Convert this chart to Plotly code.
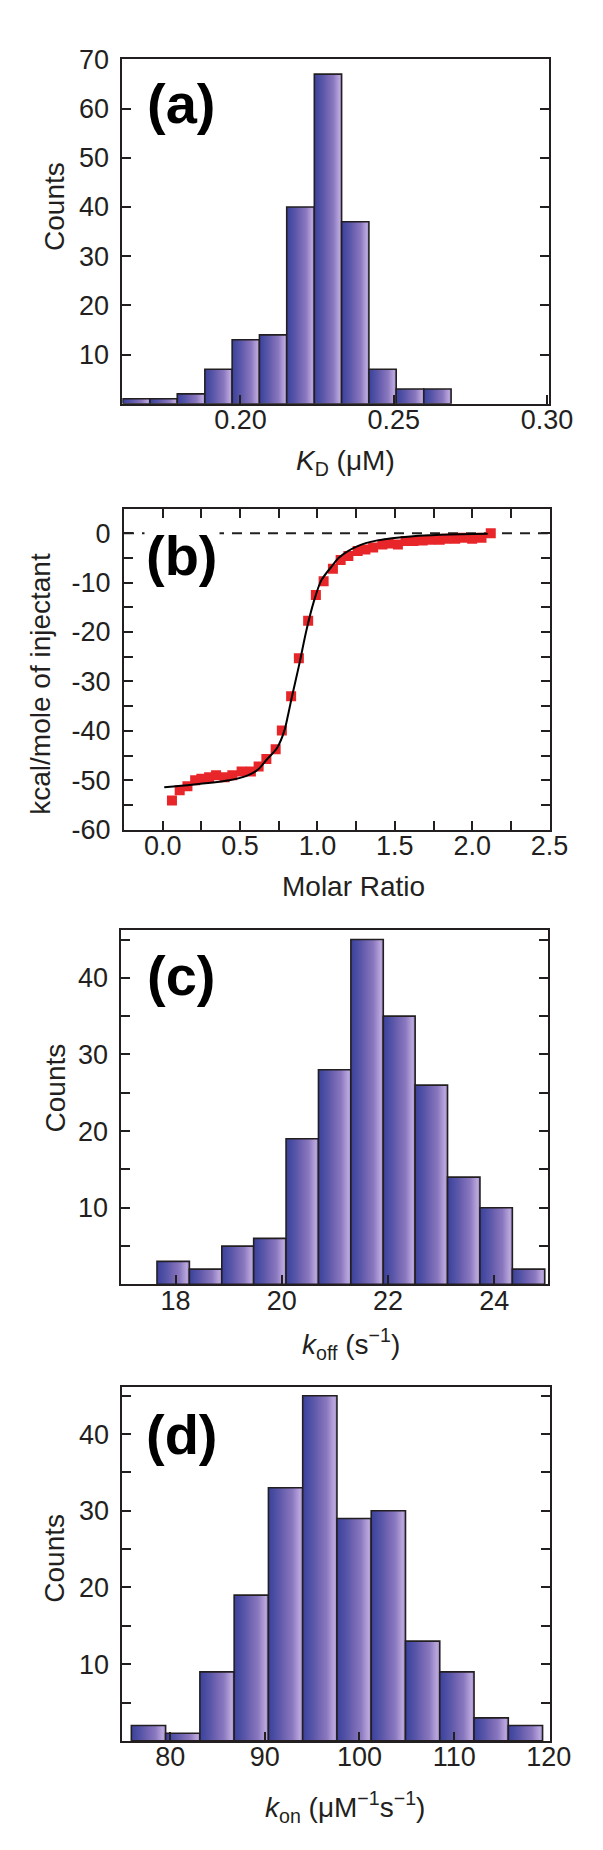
import plotly.graph_objects as go

W, H = 603, 1850

# ---------------- data ----------------
# (a) K_D histogram
kd_edges = [0.1616, 0.1705, 0.1794, 0.1884, 0.1973, 0.2062, 0.2151,
            0.2241, 0.2330, 0.2419, 0.2508, 0.2598, 0.2687]
kd_counts = [1, 1, 2, 7, 13, 14, 40, 67, 37, 7, 3, 3]
kd_xticks = [0.20, 0.25, 0.30]
kd_xtext = ["0.20", "0.25", "0.30"]
kd_yticks = [10, 20, 30, 40, 50, 60, 70]

# (b) ITC isotherm
itc_x = [0.06, 0.11, 0.16, 0.21, 0.25, 0.30, 0.345, 0.40, 0.45, 0.51,
         0.57, 0.62, 0.67, 0.73, 0.77, 0.83, 0.88, 0.94, 0.99, 1.04,
         1.10, 1.15, 1.20, 1.26, 1.31, 1.36, 1.42, 1.46, 1.52, 1.57,
         1.62, 1.68, 1.73, 1.79, 1.83, 1.89, 1.94, 2.00, 2.06, 2.12]
itc_y = [-54.1, -52.0, -51.2, -50.0, -49.7, -49.4, -49.0, -49.4, -49.0, -48.2,
         -48.2, -47.2, -45.7, -43.7, -39.9, -33.0, -25.3, -17.7, -12.5, -9.7,
         -7.2, -5.4, -4.6, -3.6, -3.3, -2.9, -2.3, -2.1, -2.3, -1.6,
         -1.6, -1.5, -1.3, -1.3, -1.1, -1.1, -0.9, -1.1, -0.9, 0.0]
fit_x = [0.01, 0.19, 0.43, 0.55, 0.62, 0.667, 0.74, 0.786, 0.81, 0.833,
         0.88, 0.93, 0.976, 1.024, 1.095, 1.14, 1.26, 1.38, 1.62, 2.10]
fit_y = [-51.4, -50.9, -50.0, -49.0, -47.7, -46.0, -43.4, -40.0, -36.8, -33.4,
         -26.9, -19.5, -13.9, -9.6, -6.6, -4.9, -2.6, -1.5, -0.6, -0.13]
itc_xticks = [0.0, 0.5, 1.0, 1.5, 2.0, 2.5]
itc_xtext = ["0.0", "0.5", "1.0", "1.5", "2.0", "2.5"]
itc_xminor = [0.25, 0.75, 1.25, 1.75, 2.25]
itc_yticks = [-60, -50, -40, -30, -20, -10, 0]
itc_ytext = ["-60", "-50", "-40", "-30", "-20", "-10", "0"]
itc_yminor = [-55, -45, -35, -25, -15, -5]

# (c) k_off histogram
koff_edges = [17.65, 18.26, 18.87, 19.47, 20.08, 20.69, 21.30,
              21.91, 22.51, 23.12, 23.73, 24.34, 24.95]
koff_counts = [3, 2, 5, 6, 19, 28, 45, 35, 26, 14, 10, 2]
koff_xticks = [18, 20, 22, 24]

# (d) k_on histogram
kon_edges = [75.90, 79.52, 83.14, 86.76, 90.38, 94.00, 97.62,
             101.24, 104.86, 108.48, 112.10, 115.72, 119.34]
kon_counts = [2, 1, 9, 19, 33, 45, 29, 30, 13, 9, 3, 2]
kon_xticks = [80, 90, 100, 110, 120]

count_yticks = [10, 20, 30, 40]
count_yminor = [5, 15, 25, 35, 45]

# ---------------- styling ----------------
INK = "#231f20"
FONT = "Liberation Sans, Arial, Helvetica, sans-serif"
# bar shading, listed from the left edge of a bar to its right edge
BAR_LEFT_TO_RIGHT = [[0.0, "#9d8aca"], [0.08, "#b9a7dc"], [0.18, "#a592d0"],
                     [0.3, "#8a78bf"], [0.5, "#7466b3"], [0.7, "#5856a8"],
                     [1.0, "#3a419c"]]
BAR_SCALE = [[round(1 - p, 4), c] for p, c in reversed(BAR_LEFT_TO_RIGHT)]

fig = go.Figure()


def add_hist(edges, counts, xa, ya):
    for i, c in enumerate(counts):
        l, r = edges[i], edges[i + 1]
        fig.add_trace(go.Scatter(
            x=[l, l, r, r, l], y=[0, c, c, 0, 0], xaxis=xa, yaxis=ya,
            mode="lines", fill="toself",
            line=dict(color=INK, width=1.6),
            fillgradient=dict(type="horizontal", colorscale=BAR_SCALE),
            hoverinfo="skip", showlegend=False))


add_hist(kd_edges, kd_counts, "x", "y")
add_hist(koff_edges, koff_counts, "x3", "y3")
add_hist(kon_edges, kon_counts, "x4", "y4")

# (b)
fig.add_trace(go.Scatter(x=[-0.25, 2.5], y=[0, 0], xaxis="x2", yaxis="y2",
                         mode="lines", line=dict(color=INK, width=2, dash="10px,8px"),
                         hoverinfo="skip", showlegend=False))
fig.add_trace(go.Scatter(x=itc_x, y=itc_y, xaxis="x2", yaxis="y2", mode="markers",
                         marker=dict(symbol="square", size=10, color="#e8262a"),
                         showlegend=False))
fig.add_trace(go.Scatter(x=fit_x, y=fit_y, xaxis="x2", yaxis="y2", mode="lines",
                         line=dict(color="black", width=2, shape="spline", smoothing=0.8),
                         showlegend=False))


def dom_x(l, r):
    return [l / W, r / W]


def dom_y(t, b):
    return [1 - b / H, 1 - t / H]


def axis(domain, rng, anchor, tickvals, ticktext=None, minor=None, mirror=True, standoff=6):
    d = dict(domain=domain, range=rng, anchor=anchor, showline=True,
             linecolor=INK, linewidth=2, mirror=mirror, ticks="inside",
             ticklen=9, tickwidth=2, tickcolor=INK, showgrid=False,
             zeroline=False, tickvals=tickvals, ticklabelstandoff=standoff,
             tickfont=dict(family=FONT, size=27, color=INK), fixedrange=True)
    if ticktext is not None:
        d["ticktext"] = ticktext
    if minor is not None:
        d["minor"] = dict(tickvals=minor, ticks="inside", ticklen=9, tickwidth=2,
                          tickcolor=INK, showgrid=False)
    return d


XS = -9
fig.update_layout(
    width=W, height=H, margin=dict(l=0, r=0, t=0, b=0),
    paper_bgcolor="white", plot_bgcolor="white", showlegend=False,
    xaxis=axis(dom_x(119.3, 564), [0.1615, 0.3005], "y", kd_xticks, kd_xtext, standoff=XS),
    yaxis=axis(dom_y(37, 387), [0, 70], "x", kd_yticks, mirror="ticks"),
    xaxis2=axis(dom_x(121, 565), [-0.25, 2.5], "y2", itc_xticks, itc_xtext,
                minor=itc_xminor, mirror="ticks", standoff=XS),
    yaxis2=axis(dom_y(494, 820), [-60, 4.9], "x2", itc_yticks, itc_ytext,
                minor=itc_yminor, mirror="ticks"),
    xaxis3=axis(dom_x(118.3, 563.3), [16.98, 25.01], "y3", koff_xticks, standoff=XS),
    yaxis3=axis(dom_y(922.3, 1282.2), [0, 46.2], "x3", count_yticks,
                minor=count_yminor, mirror="ticks"),
    xaxis4=axis(dom_x(119.3, 565), [74.95, 120.08], "y4", kon_xticks, standoff=XS),
    yaxis4=axis(dom_y(1386, 1746.2), [0, 46.2], "x4", count_yticks,
                minor=count_yminor, mirror="ticks"),
)


def ann(text, px, py, size=28, bold=False, angle=0, bg=None):
    t = f"<b>{text}</b>" if bold else text
    a = dict(text=t, x=px / W, y=1 - py / H, xref="paper", yref="paper",
             xanchor="center", yanchor="middle", showarrow=False, textangle=angle,
             font=dict(family=FONT, size=size, color=INK if not bold else "black"))
    if bg:
        a["bgcolor"] = bg
    fig.add_annotation(**a)


# axis titles
ann("<i>K</i><sub>D</sub> (μM)", 352, 447)
ann("Counts", 49, 186, angle=-90)
ann("kcal/mole of injectant", 33, 672, angle=-90)
ann("Molar Ratio", 360, 878)
ann("<i>k</i><sub>off</sub> (s<sup>−1</sup>)", 358, 1343)
ann("Counts", 49, 1082, angle=-90)
ann("<i>k</i><sub>on</sub> (μM<sup>−1</sup>s<sup>−1</sup>)", 352, 1813)
ann("Counts", 49, 1560, angle=-90)

# panel labels
ann("(a)", 181, 82, size=56, bold=True)
ann("(b)", 182, 541, size=56, bold=True, bg="white")
ann("(c)", 180, 968, size=56, bold=True)
ann("(d)", 182, 1435, size=56, bold=True)

fig.write_html("out.html")
